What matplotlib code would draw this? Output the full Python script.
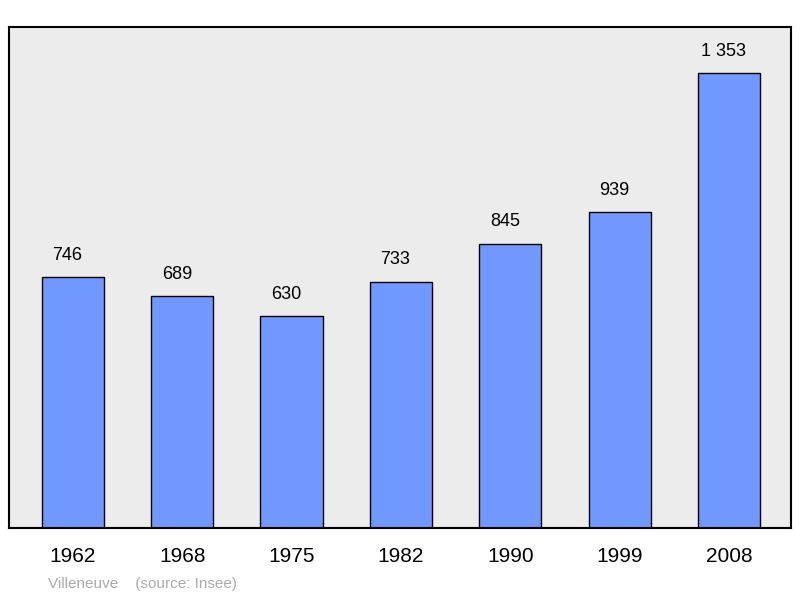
import matplotlib
matplotlib.use("Agg")
import matplotlib.pyplot as plt

years = ["1962", "1968", "1975", "1982", "1990", "1999", "2008"]
population = [746, 689, 630, 733, 845, 939, 1353]
labels = ["746", "689", "630", "733", "845", "939", "1 353"]

plt.rcParams['font.family'] = ['Liberation Sans', 'DejaVu Sans']

fig = plt.figure(figsize=(8, 5.98), dpi=100)
ax = fig.add_axes([9/800, 1 - 528/598, (791 - 9)/800, (528 - 27)/598])
ax.set_facecolor('#ececec')

x = range(len(years))
ax.bar(x, population, width=0.57, color='#7198ff', edgecolor='black', linewidth=1)
for xi, v, t in zip(x, population, labels):
    ax.text(xi - 0.05, v + 40, t, ha='center', va='bottom', fontsize=13)

ax.set_xlim(-0.585, 6.567)
ax.set_ylim(0, 1490)
ax.set_yticks([])
ax.set_xticks(list(x))
ax.set_xticklabels(years, fontsize=15)
ax.tick_params(axis='x', length=0, pad=14)
for s in ax.spines.values():
    s.set_linewidth(1.5)

fig.text(48/800, 1 - 584/598, "Villeneuve    (source: Insee)", color='#aaaaaa',
         fontsize=11, va='center')

fig.savefig('out.png')
